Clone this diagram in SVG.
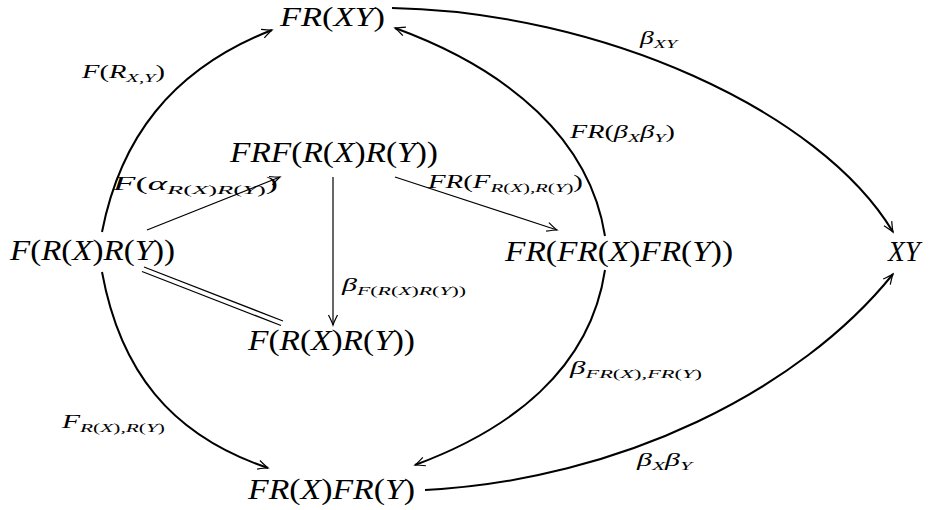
<svg xmlns="http://www.w3.org/2000/svg" width="930" height="510" viewBox="0 0 930 510">
<style>
text{font-family:"Liberation Serif","Times New Roman",serif;font-style:italic;fill:#000}
.n{font-size:30px}
.l{font-size:18px}
.u{font-style:normal}
.s{font-size:13px}
.c path,.c line{fill:none;stroke:#000}
.t{stroke-width:2}
.f{stroke-width:1.2}
</style>
<defs>
<marker id="a" viewBox="-11 -6 13 12" refX="0" refY="0" markerWidth="13" markerHeight="12" markerUnits="userSpaceOnUse" orient="auto">
<path d="M-10,-4.5 Q-3,-1 0,0 Q-3,1 -10,4.5" fill="none" stroke="#000" stroke-width="1.2"/>
</marker>
</defs>
<g id="connectors" class="c">
<path class="t" d="M102,232 C120,140 170,70 272,30" marker-end="url(#a)"/>
<path class="t" d="M102,272 C120,370 170,435 268,468" marker-end="url(#a)"/>
<path class="t" d="M605,236 C590,140 510,70 395,28" marker-end="url(#a)"/>
<path class="t" d="M605,270 C590,370 510,430 415,465" marker-end="url(#a)"/>
<path class="t" d="M392,8 C600,12 820,110 893,232" marker-end="url(#a)"/>
<path class="t" d="M425,490 C620,480 800,390 893,274" marker-end="url(#a)"/>
<line class="f" x1="147" y1="230" x2="280" y2="177" marker-end="url(#a)"/>
<line class="f" x1="395" y1="177" x2="557" y2="230" marker-end="url(#a)"/>
<line class="f" x1="333" y1="177" x2="333" y2="325" marker-end="url(#a)"/>
<line class="f" x1="144" y1="267" x2="283" y2="321"/>
<line class="f" x1="142" y1="271.5" x2="281" y2="325.5"/>
</g>
<g id="n-FRXY"><text class="n" style="font-size:28px" x="280" y="26" textLength="105" lengthAdjust="spacingAndGlyphs">FR<tspan class="u">(</tspan>XY<tspan class="u">)</tspan></text></g>
<g id="n-FRXRY-left"><text class="n" x="10" y="260" textLength="165" lengthAdjust="spacingAndGlyphs">F<tspan class="u">(</tspan>R<tspan class="u">(</tspan>X<tspan class="u">)</tspan>R<tspan class="u">(</tspan>Y<tspan class="u">))</tspan></text></g>
<g id="n-FRF"><text class="n" x="230" y="162" textLength="208" lengthAdjust="spacingAndGlyphs">FRF<tspan class="u">(</tspan>R<tspan class="u">(</tspan>X<tspan class="u">)</tspan>R<tspan class="u">(</tspan>Y<tspan class="u">))</tspan></text></g>
<g id="n-FRXRY-bottom"><text class="n" x="248" y="350" textLength="167" lengthAdjust="spacingAndGlyphs">F<tspan class="u">(</tspan>R<tspan class="u">(</tspan>X<tspan class="u">)</tspan>R<tspan class="u">(</tspan>Y<tspan class="u">))</tspan></text></g>
<g id="n-FRFRFR"><text class="n" x="505" y="261" textLength="228" lengthAdjust="spacingAndGlyphs">FR<tspan class="u">(</tspan>FR<tspan class="u">(</tspan>X<tspan class="u">)</tspan>FR<tspan class="u">(</tspan>Y<tspan class="u">))</tspan></text></g>
<g id="n-XY"><text class="n" x="888" y="261" textLength="32" lengthAdjust="spacingAndGlyphs">XY</text></g>
<g id="n-FRXFRY"><text class="n" x="248" y="499" textLength="167" lengthAdjust="spacingAndGlyphs">FR<tspan class="u">(</tspan>X<tspan class="u">)</tspan>FR<tspan class="u">(</tspan>Y<tspan class="u">)</tspan></text></g>
<g id="labels">
<text class="l" x="82" y="78" textLength="83" lengthAdjust="spacingAndGlyphs">F<tspan class="u">(</tspan>R<tspan class="s" dy="4">X,Y</tspan><tspan class="u" dy="-4">)</tspan></text>
<text class="l" x="113" y="190" textLength="165" lengthAdjust="spacingAndGlyphs">F<tspan class="u">(</tspan>α<tspan class="s" dy="4">R<tspan class="u">(</tspan>X<tspan class="u">)</tspan>R<tspan class="u">(</tspan>Y<tspan class="u">)</tspan></tspan><tspan class="u" dy="-4">)</tspan></text>
<text class="l" x="428" y="188" textLength="155" lengthAdjust="spacingAndGlyphs">FR<tspan class="u">(</tspan>F<tspan class="s" dy="4">R<tspan class="u">(</tspan>X<tspan class="u">)</tspan>,R<tspan class="u">(</tspan>Y<tspan class="u">)</tspan></tspan><tspan class="u" dy="-4">)</tspan></text>
<text class="l" x="342" y="291" textLength="124" lengthAdjust="spacingAndGlyphs">β<tspan class="s" dy="4">F<tspan class="u">(</tspan>R<tspan class="u">(</tspan>X<tspan class="u">)</tspan>R<tspan class="u">(</tspan>Y<tspan class="u">))</tspan></tspan></text>
<text class="l" x="570" y="138" textLength="105" lengthAdjust="spacingAndGlyphs">FR<tspan class="u">(</tspan>β<tspan class="s" dy="4">X</tspan><tspan dy="-4">β</tspan><tspan class="s" dy="4">Y</tspan><tspan class="u" dy="-4">)</tspan></text>
<text class="l" x="640" y="44" textLength="37" lengthAdjust="spacingAndGlyphs">β<tspan class="s" dy="4">XY</tspan></text>
<text class="l" x="62" y="428" textLength="103" lengthAdjust="spacingAndGlyphs">F<tspan class="s" dy="4">R<tspan class="u">(</tspan>X<tspan class="u">)</tspan>,R<tspan class="u">(</tspan>Y<tspan class="u">)</tspan></tspan></text>
<text class="l" x="570" y="374" textLength="132" lengthAdjust="spacingAndGlyphs">β<tspan class="s" dy="4">FR<tspan class="u">(</tspan>X<tspan class="u">)</tspan>,FR<tspan class="u">(</tspan>Y<tspan class="u">)</tspan></tspan></text>
<text class="l" x="637" y="466" textLength="55" lengthAdjust="spacingAndGlyphs">β<tspan class="s" dy="4">X</tspan><tspan dy="-4">β</tspan><tspan class="s" dy="4">Y</tspan></text>
</g>
</svg>
